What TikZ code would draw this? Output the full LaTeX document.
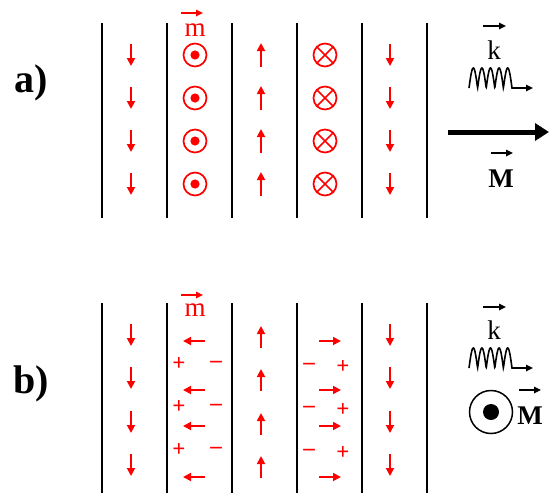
\documentclass[tikz,border=0pt]{standalone}
\usepackage{fontspec}
\setmainfont{Liberation Serif}
\usetikzlibrary{arrows.meta}
\begin{document}
\begin{tikzpicture}[x=1pt,y=-1pt,
  wall/.style={line width=1.5pt,black},
  rarr/.style={red,line width=1.8pt,-{Triangle[length=8pt,width=8pt]}},
  vecarr/.style={line width=1.6pt,-{Triangle[length=7pt,width=6.5pt]}},
  lbl/.style={inner sep=0pt,font=\fontsize{27}{27}\selectfont},
  panel/.style={inner sep=0pt,font=\fontsize{40}{40}\selectfont\bfseries},
  sgn/.style={inner sep=0pt,text=red,font=\fontsize{23}{23}\selectfont\bfseries},
  ring/.style={draw=red,line width=1.7pt,circle,minimum size=23pt,inner sep=0pt},
  wave/.style={line width=1.6pt,-{Triangle[length=7pt,width=6.5pt]}}
]
\useasboundingbox (0,0) rectangle (549,493);
% ---------------- panel a ----------------
\node[panel] (la) at (31,83) {a)};
\foreach \x [count=\i] in {102,167,232,297,362,427}
  \draw[wall] (\x,23) coordinate (at\i) -- (\x,218) coordinate (ab\i);
\foreach \y [count=\i] in {55,98,141,184}{
  \draw[rarr] (131,\y-11) -- (131,\y+11);
  \draw[rarr] (261,\y+12) -- (261,\y-12);
  \draw[rarr] (390,\y-11) -- (390,\y+11);
  \node[ring] (dot\i) at (195,\y) {};
  \fill[red] (dot\i.center) circle (4.6);
  \node[ring] (crs\i) at (325,\y) {};
  \draw[red,line width=1.7pt] (crs\i.45) -- (crs\i.225) (crs\i.135) -- (crs\i.315);
}
\node[lbl,text=red] (ma) at (195,30) {m};
\draw[vecarr,red] (181,13) -- (203,13);
\node[lbl] (ka) at (494,50) {k};
\draw[vecarr] (483,26) -- (506,26);
\draw[wave] plot[domain=0:43,samples=200] ({469+\x},{88-20*abs(sin(\x/43*5*180))}) -- (533,88);
\draw[line width=5pt,-{Triangle[length=14pt,width=17pt]}] (448,132) coordinate (bigs) -- (549,132) coordinate (bige);
\draw[vecarr] (491,153) -- (513,153);
\node[lbl,font=\fontsize{27}{27}\selectfont\bfseries] (Ma) at (501,179) {M};
% ---------------- panel b ----------------
\node[panel] (lb) at (31,384) {b)};
\foreach \x [count=\i] in {102,167,232,297,362,427}
  \draw[wall] (\x,303) coordinate (bt\i) -- (\x,493) coordinate (bb\i);
\foreach \y in {335,378,422,465}{
  \draw[rarr] (131,\y-11) -- (131,\y+11);
  \draw[rarr] (390,\y-11) -- (390,\y+11);
}
\foreach \y in {337,380,424,467}
  \draw[rarr] (261,\y+11) -- (261,\y-11);
\foreach \y in {341,390,426,477}{
  \draw[rarr] (205,\y) -- (183,\y);
  \draw[rarr] (319,\y) -- (341,\y);
}
\foreach \y [count=\i] in {364,407,450}{
  \node[sgn] (pl\i) at (179,\y) {+};
  \node[sgn] (mi\i) at (216,\y) {–};
  \node[sgn] (mr\i) at (309,\y+2) {–};
  \node[sgn] (pr\i) at (343,\y+3) {+};
}
\node[lbl,text=red] (mb) at (195,310) {m};
\draw[vecarr,red] (181,295) -- (203,295);
\node[lbl] (kb) at (494,330) {k};
\draw[vecarr] (483,307) -- (506,307);
\draw[wave] plot[domain=0:43,samples=200] ({469+\x},{368-20*abs(sin(\x/43*5*180))}) -- (533,368);
\draw[black,line width=1.5pt] (491,412) circle (21.5);
\fill[black] (491,412) circle (8);
\draw[vecarr] (519,390) -- (541,390);
\node[lbl,font=\fontsize{27}{27}\selectfont\bfseries] (Mb) at (530,416) {M};
\end{tikzpicture}
\end{document}
